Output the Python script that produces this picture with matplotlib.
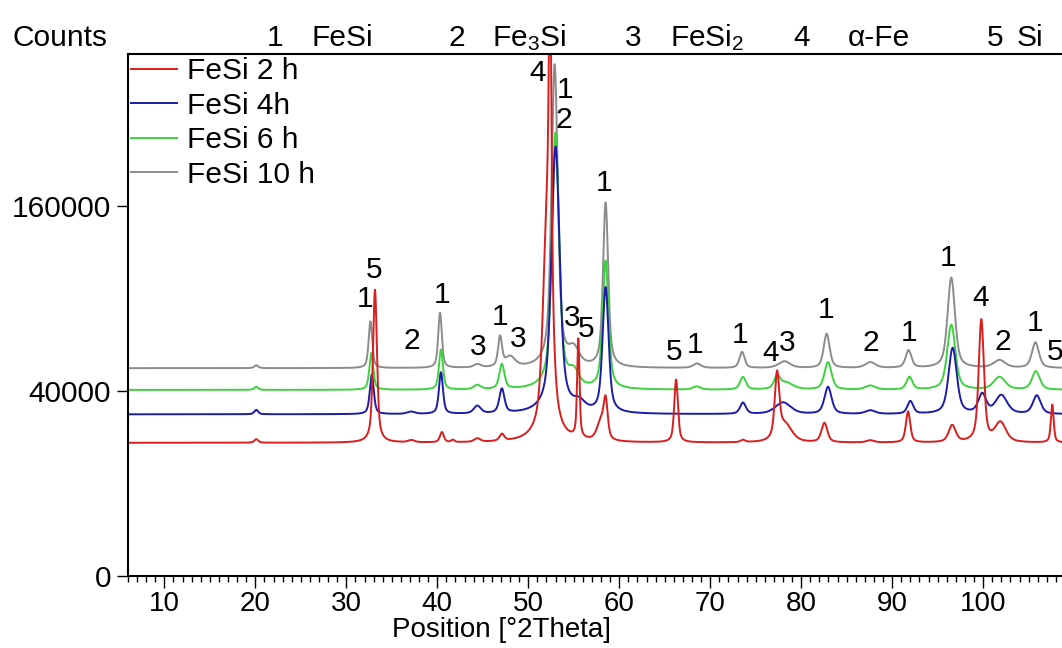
import matplotlib

matplotlib.use("Agg")
import matplotlib.pyplot as plt
import numpy as np
from matplotlib.ticker import MultipleLocator, NullLocator

plt.rcParams["font.family"] = ["Liberation Sans", "DejaVu Sans"]
plt.rcParams["mathtext.fontset"] = "custom"
plt.rcParams["mathtext.rm"] = "Liberation Sans"
plt.rcParams["mathtext.it"] = "Liberation Sans:italic"

# peak tables: position [deg 2theta], apex counts, FWHM
series_names = ["FeSi 2 h", "FeSi 4h", "FeSi 6 h", "FeSi 10 h"]
series_colors = ["#d81e1e", "#1c1ca8", "#3ed23e", "#8c8c8c"]
baselines = [20700, 30500, 40400, 50400]

red_pos = [20.1, 33.15, 37.15, 40.5, 41.7, 44.4, 47.1, 52.1, 52.4, 55.5,
           58.0, 58.5, 66.25, 73.6, 77.35, 78.2, 82.55, 87.6, 91.75, 96.6,
           99.8, 101.9, 107.6]
red_apex = [21800, 95600, 21400, 24000, 21400, 21800, 22900, 150000, 350000,
            64100, 27300, 34200, 44900, 21400, 46100, 26600, 27200, 21400,
            31500, 26300, 76600, 27300, 34200]
red_fwhm = [0.5, 0.45, 0.8, 0.5, 0.4, 0.8, 0.6, 0.9, 0.3, 0.28,
            1.0, 0.5, 0.45, 0.6, 0.55, 1.8, 0.75, 1.0, 0.55, 0.9,
            0.6, 1.4, 0.35]

blue_pos = [20.1, 32.8, 37.1, 40.4, 44.4, 47.1, 53.0, 55.6, 58.5, 73.6,
            78.0, 82.95, 87.6, 92.0, 96.65, 99.9, 102.0, 105.9]
blue_apex = [32200, 47200, 31400, 48300, 33500, 40400, 215000, 34000, 96700,
             34900, 35100, 41600, 31900, 35500, 60600, 38300, 37900, 37900]
blue_fwhm = [0.5, 0.5, 1.0, 0.5, 0.9, 0.65, 0.9, 1.5, 0.7, 0.75,
             2.0, 0.9, 1.3, 0.75, 1.0, 1.0, 1.5, 1.0]

green_pos = [20.1, 32.75, 40.4, 44.4, 47.1, 53.0, 55.0, 58.5, 68.5, 73.6,
             77.35, 78.3, 82.95, 87.6, 91.9, 96.5, 101.8, 105.8]
green_apex = [41800, 57950, 59700, 42300, 52000, 229000, 47200, 115500, 41800,
              46100, 45700, 43500, 53200, 42200, 46100, 73600, 46100, 48800]
green_fwhm = [0.5, 0.5, 0.5, 0.9, 0.65, 0.8, 1.3, 0.7, 1.0, 0.75,
              0.75, 1.9, 0.9, 1.3, 0.75, 1.0, 1.5, 1.0]

gray_pos = [20.1, 32.65, 40.3, 44.4, 46.9, 48.0, 52.9, 55.0, 58.5, 68.55,
            73.5, 78.15, 82.8, 87.6, 91.8, 96.5, 101.8, 105.75]
gray_apex = [51800, 75600, 80700, 52000, 66000, 55500, 305000, 58800, 162000,
             52500, 58500, 53700, 68400, 53200, 59200, 103800, 54200, 63600]
gray_fwhm = [0.5, 0.45, 0.45, 0.9, 0.5, 1.3, 0.7, 1.4, 0.6, 1.0,
             0.65, 1.5, 0.75, 1.3, 0.75, 0.9, 1.5, 0.9]

peak_tables = [(red_pos, red_apex, red_fwhm), (blue_pos, blue_apex, blue_fwhm),
               (green_pos, green_apex, green_fwhm),
               (gray_pos, gray_apex, gray_fwhm)]

# phase index labels over the peaks
label_text = ["5", "1", "2", "1", "3", "1", "3", "4", "1", "2", "1", "3", "5",
              "5", "1", "1", "4", "3", "1", "2", "1", "1", "4", "2", "1", "5"]
label_pos = [33.08, 32.10, 37.23, 40.53, 44.48, 46.94, 48.84, 51.04, 54.08,
             53.89, 58.29, 54.82, 56.39, 65.99, 68.37, 73.32, 76.62, 78.46,
             82.75, 87.61, 91.82, 96.18, 99.70, 102.20, 105.67, 107.95]
label_counts = [109200, 89500, 64600, 92100, 61300, 78400, 65300, 294700,
                276200, 242500, 179800, 77400, 71000, 58700, 62200, 67700,
                57800, 63500, 82500, 63500, 68700, 117900, 89900, 64000,
                74500, 58700]

phase_num = ["1", "2", "3", "4", "5"]
phase_name = ["FeSi", "Fe$_3$Si", "FeSi$_2$", "α-Fe", "Si"]

X_MIN, X_MAX = 6, 108.67
Y_MAX = 318000
FS = 21.5


def profile(x, c, w, eta=0.55):
    g = np.exp(-4 * np.log(2) * ((x - c) / w) ** 2)
    lor = 1 / (1 + 4 * ((x - c) / w) ** 2)
    return eta * lor + (1 - eta) * g


def pattern(x, base, pos, apex, fwhm):
    y = np.full_like(x, float(base))
    for c, a, w in zip(pos, apex, fwhm):
        y += (a - base) * profile(x, c, w)
    return y


fig = plt.figure(figsize=(10.62, 6.48), dpi=100)
ax = fig.add_axes([128 / 1062, 72 / 648, 934 / 1062, 522 / 648])

theta = np.arange(X_MIN, X_MAX, 0.01)
lines = []
for i in (3, 2, 1, 0):  # gray at the back, red in front
    pos, apex, fwhm = peak_tables[i]
    ln, = ax.plot(theta, pattern(theta, baselines[i], pos, apex, fwhm),
                  color=series_colors[i], lw=1.4, label=series_names[i])
    lines.append(ln)
lines = lines[::-1]

ax.set_yscale("function", functions=(lambda v: np.sqrt(np.clip(v, 0, None)),
                                     lambda v: np.square(v)))
ax.set_xlim(X_MIN, X_MAX)
ax.set_ylim(0, Y_MAX)
ax.set_yticks([0, 40000, 160000])
ax.set_yticklabels(["0", "40000", "160000"])
ax.yaxis.set_minor_locator(NullLocator())
ax.xaxis.set_major_locator(MultipleLocator(10))
ax.xaxis.set_minor_locator(MultipleLocator(1))
ax.tick_params(axis="y", which="major", labelsize=FS, direction="out",
               width=1, length=8, pad=4)
ax.tick_params(axis="x", which="major", labelsize=20, direction="out",
               width=1, length=8.5, pad=2.5)
ax.tick_params(axis="x", which="minor", direction="out", width=1, length=4.5)
ax.spines["right"].set_visible(False)
for s in ("left", "bottom", "top"):
    ax.spines[s].set_linewidth(1.5)

ax.set_xlabel("Position [°2Theta]", fontsize=20)
ax.xaxis.set_label_coords((502 - 128) / 934, -0.079)

for t, x, c in zip(label_text, label_pos, label_counts):
    ax.text(x, c, t, fontsize=FS, ha="center", va="center", clip_on=False)

ax.legend(handles=lines, loc="upper left", frameon=False, fontsize=FS,
          borderaxespad=0, borderpad=0.1, handlelength=1.55,
          handletextpad=0.33, labelspacing=0.22)

fig.text(12 / 1062, 1 - 45.5 / 648, "Counts", fontsize=FS, va="baseline")
num_x = [267, 448, 625, 793, 987]
name_x = [312, 492, 670, 848, 1017]
for n, nx, name, mx in zip(phase_num, num_x, phase_name, name_x):
    fig.text(nx / 1062, 1 - 46 / 648, n, fontsize=FS, va="baseline")
    fig.text(mx / 1062, 1 - 46 / 648, name, fontsize=FS, va="baseline")

fig.savefig("out.png", dpi=100)
